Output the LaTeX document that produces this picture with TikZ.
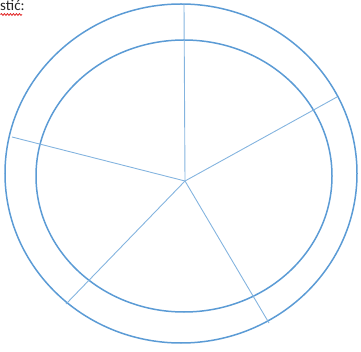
\documentclass[tikz,border=0pt]{standalone}
\usepackage{fontspec}
\setmainfont{Carlito}
\usetikzlibrary{decorations.pathmorphing}
\definecolor{ringblue}{RGB}{91,155,213}
\definecolor{spellred}{RGB}{225,35,35}
\tikzset{
    ring/.style={draw=ringblue, line width=1.5pt},
    spoke/.style={draw=ringblue!75, line width=0.9pt},
    notetext/.style={anchor=base west, inner sep=0pt, text=black!85, font=\fontsize{15}{17}\selectfont},
    wavy/.style={draw=spellred, line width=0.8pt, decorate, decoration={snake, amplitude=0.9pt, segment length=3pt}}
}

\begin{document}
\begin{tikzpicture}[x=1pt, y=-1pt]
    \useasboundingbox (0,0) rectangle (361,352);
    % Text
    \node[notetext] (note) at (0,10.5) {stić:};
    \draw[wavy] (0.5,14.5) -- (22,14.5);

    % Rings
    \draw[ring] (181,173.5) ellipse [x radius=176, y radius=169.5];
    \draw[ring] (184,176) ellipse [x radius=148, y radius=136];

    % Nodes
    \coordinate (O) at (185,181);
    \coordinate (A) at (184,4);
    \coordinate (B) at (337,97);
    \coordinate (C) at (269,323);
    \coordinate (D) at (66,304);
    \coordinate (E) at (12,137);

    % edges
    \draw[spoke] (O) -- (A);
    \draw[spoke] (O) -- (B);
    \draw[spoke] (O) -- (C);
    \draw[spoke] (O) -- (D);
    \draw[spoke] (O) -- (E);
\end{tikzpicture}
\end{document}
